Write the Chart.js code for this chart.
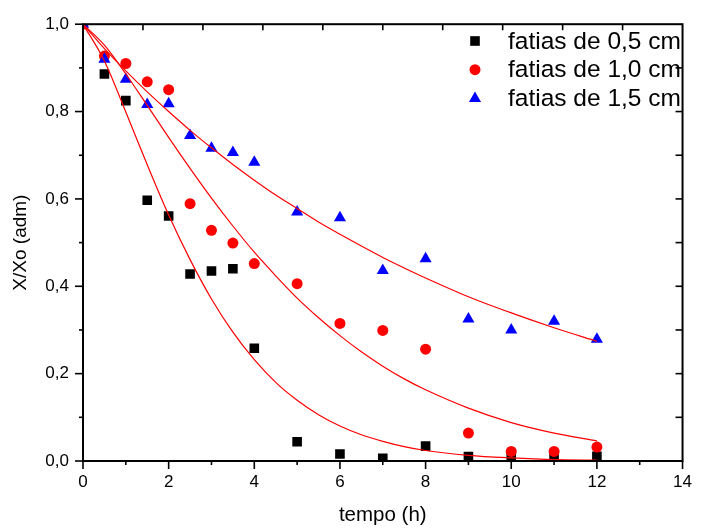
<!DOCTYPE html>
<html>
<head>
<meta charset="utf-8">
<script src="https://cdn.jsdelivr.net/npm/chart.js@4"></script>
<style>
  html, body { margin: 0; padding: 0; background: #fff; }
  #wrap { width: 703px; height: 528px; }
</style>
</head>
<body>
<div id="wrap"><canvas id="chart" width="703" height="528"></canvas></div>
<script>
/* ================= DATA ================= */
const tempo = [0, 0.5, 1, 1.5, 2, 2.5, 3, 3.5, 4, 5, 6, 7, 8, 9, 10, 11, 12];
const fatias05 = [1.0, 0.886, 0.825, 0.597, 0.561, 0.428, 0.435, 0.44, 0.258, 0.044, 0.016, 0.006, 0.034, 0.01, 0.01, 0.006, 0.011];
const fatias10 = [1.0, 0.927, 0.91, 0.868, 0.85, 0.589, 0.528, 0.499, 0.452, 0.406, 0.315, 0.299, 0.256, 0.064, 0.022, 0.022, 0.032];
const fatias15 = [1.0, 0.92, 0.874, 0.816, 0.818, 0.745, 0.716, 0.706, 0.684, 0.57, 0.557, 0.436, 0.463, 0.325, 0.3, 0.32, 0.279];

// fitted model curves
const tempoAjuste = [0, 0.5, 1, 1.5, 2, 2.5, 3, 3.5, 4, 4.5, 5, 5.5, 6, 6.5, 7, 7.5, 8, 9, 10, 11, 12];
const ajuste05 = [1, 0.916, 0.799, 0.678, 0.563, 0.461, 0.371, 0.295, 0.232, 0.180, 0.139, 0.106, 0.080, 0.060, 0.045, 0.033, 0.024, 0.013, 0.007, 0.003, 0.002];
const ajuste10 = [1, 0.952, 0.886, 0.814, 0.741, 0.670, 0.602, 0.538, 0.478, 0.424, 0.373, 0.328, 0.287, 0.250, 0.217, 0.188, 0.163, 0.121, 0.088, 0.064, 0.046];
const ajuste15 = [1, 0.944, 0.893, 0.845, 0.800, 0.757, 0.717, 0.679, 0.643, 0.609, 0.578, 0.547, 0.519, 0.492, 0.466, 0.442, 0.419, 0.376, 0.339, 0.305, 0.274];

const legendLabels = ["fatias de 0,5 cm", "fatias de 1,0 cm", "fatias de 1,5 cm"];
const xTicks = [0, 2, 4, 6, 8, 10, 12, 14];
const yTicks = [0, 0.2, 0.4, 0.6, 0.8, 1.0];

const FONT = "'Liberation Sans', Arial, sans-serif";

function pts(xs, ys) {
  return xs.map((t, i) => ({ x: t, y: ys[i] }));
}

/* ================= FRAME + TICKS + LEGEND ================= */
const framePlugin = {
  id: "frame",
  afterDraw(chart) {
    const { ctx, chartArea: a, scales: { x, y } } = chart;
    ctx.save();
    ctx.strokeStyle = "#000";
    ctx.lineWidth = 1.6;
    const line = (x1, y1, x2, y2) => {
      ctx.beginPath(); ctx.moveTo(x1, y1); ctx.lineTo(x2, y2); ctx.stroke();
    };

    // bottom axis, ticks outward
    xTicks.forEach((v, i) => {
      const px = x.getPixelForValue(v);
      line(px, a.bottom, px, a.bottom + 8);
      if (i < xTicks.length - 1) {
        const pm = x.getPixelForValue((v + xTicks[i + 1]) / 2);
        line(pm, a.bottom, pm, a.bottom + 4);
      }
    });
    // left axis, ticks outward
    yTicks.forEach((v, i) => {
      const py = y.getPixelForValue(v);
      line(a.left, py, a.left - 8, py);
      if (i < yTicks.length - 1) {
        const pm = y.getPixelForValue((v + yTicks[i + 1]) / 2);
        line(a.left, pm, a.left - 4, pm);
      }
    });
    // top axis, 10 divisions, ticks inward
    for (let i = 1; i < 10; i++) {
      const px = a.left + a.width * i / 10;
      line(px, a.top, px, a.top + 6);
    }
    // right axis, ticks inward every 0.1
    yTicks.forEach((v, i) => {
      if (i < yTicks.length - 1) {
        const pm = y.getPixelForValue((v + yTicks[i + 1]) / 2);
        line(a.right, pm, a.right - 7, pm);
        if (i > 0) line(a.right, y.getPixelForValue(v), a.right - 7, y.getPixelForValue(v));
      }
    });

    ctx.lineWidth = 2;
    ctx.strokeRect(a.left, a.top, a.width, a.height);

    // legend
    const items = chart.data.datasets.filter(d => d.label);
    items.sort((p, q) => p.legendIndex - q.legendIndex);
    ctx.font = "24.5px " + FONT;
    ctx.textBaseline = "middle";
    ctx.textAlign = "left";
    items.forEach((d, i) => {
      const ly = 41 + i * 28.7;
      ctx.fillStyle = d.backgroundColor;
      Chart.helpers.drawPoint(ctx, {
        pointStyle: d.pointStyle, radius: d.pointRadius, rotation: 0, borderWidth: 0
      }, 475, ly);
      ctx.fillStyle = "#000";
      ctx.fillText(d.label, 508, ly + 1);
    });
    ctx.restore();
  }
};

/* ================= CHART ================= */
const fitStyle = {
  type: "line",
  showLine: true,
  borderColor: "#ff0000",
  borderWidth: 1.2,
  pointRadius: 0,
  fill: false,
  cubicInterpolationMode: "monotone",
  order: 0
};

new Chart(document.getElementById("chart"), {
  type: "scatter",
  data: {
    datasets: [
      { ...fitStyle, data: pts(tempoAjuste, ajuste05) },
      { ...fitStyle, data: pts(tempoAjuste, ajuste10) },
      { ...fitStyle, data: pts(tempoAjuste, ajuste15) },
      {
        label: legendLabels[2], legendIndex: 2, data: pts(tempo, fatias15),
        pointStyle: "triangle", pointRadius: 7, backgroundColor: "#0000ff",
        borderWidth: 0, clip: 0, order: 1
      },
      {
        label: legendLabels[1], legendIndex: 1, data: pts(tempo, fatias10),
        pointStyle: "circle", pointRadius: 5.5, backgroundColor: "#ff0000",
        borderWidth: 0, clip: 0, order: 2
      },
      {
        label: legendLabels[0], legendIndex: 0, data: pts(tempo, fatias05),
        pointStyle: "rect", pointRadius: 6.8, backgroundColor: "#000000",
        borderWidth: 0, clip: 0, order: 3
      }
    ]
  },
  options: {
    responsive: false,
    animation: false,
    devicePixelRatio: 1,
    layout: { padding: { top: 17, right: 10, left: 0, bottom: 0 } },
    plugins: { legend: { display: false }, tooltip: { enabled: false } },
    scales: {
      x: {
        type: "linear", min: 0, max: 14,
        afterBuildTicks: s => { s.ticks = xTicks.map(v => ({ value: v })); },
        afterFit: s => { s.height = 67; },
        grid: { display: false, drawTicks: false },
        border: { display: false },
        ticks: { padding: 11, color: "#000", font: { family: FONT, size: 17 }, callback: v => String(v) },
        title: { display: true, text: "tempo (h)", color: "#000", padding: { top: 0, bottom: 0 }, font: { family: FONT, size: 20.5 } }
      },
      y: {
        type: "linear", min: 0, max: 1,
        afterBuildTicks: s => { s.ticks = yTicks.map(v => ({ value: v })); },
        afterFit: s => { s.width = 83; },
        grid: { display: false, drawTicks: false },
        border: { display: false },
        ticks: { padding: 14, color: "#000", font: { family: FONT, size: 17 }, callback: v => v.toFixed(1).replace(".", ",") },
        title: { display: true, text: "X/Xo (adm)", color: "#000", padding: { top: 9, bottom: 0 }, font: { family: FONT, size: 19 } }
      }
    }
  },
  plugins: [framePlugin]
});
</script>
</body>
</html>
